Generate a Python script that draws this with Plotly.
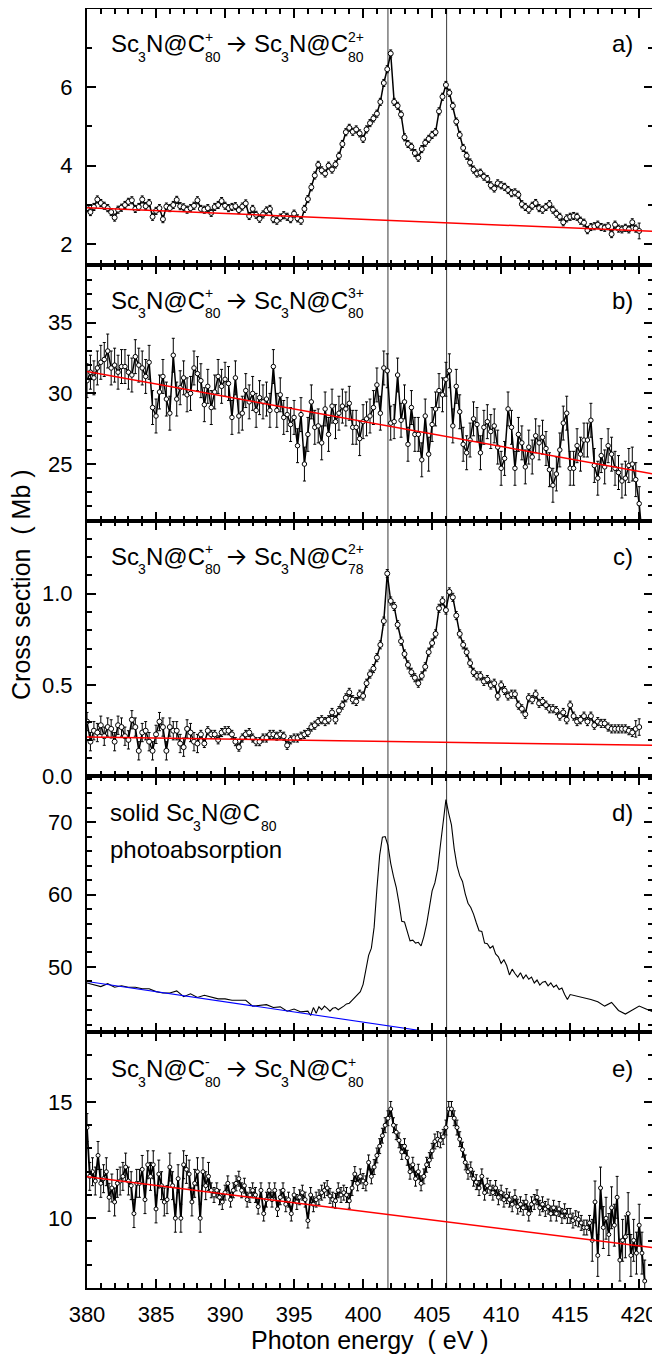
import plotly.graph_objects as go

# ---------------- data ----------------
energy_ion = [
    380.0, 380.25, 380.5, 380.75, 381.0, 381.25, 381.5, 381.75,
    382.0, 382.25, 382.5, 382.75, 383.0, 383.25, 383.5, 383.75,
    384.0, 384.25, 384.5, 384.75, 385.0, 385.25, 385.5, 385.75,
    386.0, 386.25, 386.5, 386.75, 387.0, 387.25, 387.5, 387.75,
    388.0, 388.25, 388.5, 388.75, 389.0, 389.25, 389.5, 389.75,
    390.0, 390.25, 390.5, 390.75, 391.0, 391.25, 391.5, 391.75,
    392.0, 392.25, 392.5, 392.75, 393.0, 393.25, 393.5, 393.75,
    394.0, 394.25, 394.5, 394.75, 395.0, 395.25, 395.5, 395.75,
    396.0, 396.25, 396.5, 396.75, 397.0, 397.25, 397.5, 397.75,
    398.0, 398.25, 398.5, 398.75, 399.0, 399.25, 399.5, 399.75,
    400.0, 400.25, 400.5, 400.75, 401.0, 401.25, 401.5, 401.75,
    402.0, 402.25, 402.5, 402.75, 403.0, 403.25, 403.5, 403.75,
    404.0, 404.25, 404.5, 404.75, 405.0, 405.25, 405.5, 405.75,
    406.0, 406.25, 406.5, 406.75, 407.0, 407.25, 407.5, 407.75,
    408.0, 408.25, 408.5, 408.75, 409.0, 409.25, 409.5, 409.75,
    410.0, 410.25, 410.5, 410.75, 411.0, 411.25, 411.5, 411.75,
    412.0, 412.25, 412.5, 412.75, 413.0, 413.25, 413.5, 413.75,
    414.0, 414.25, 414.5, 414.75, 415.0, 415.25, 415.5, 415.75,
    416.0, 416.25, 416.5, 416.75, 417.0, 417.25, 417.5, 417.75,
    418.0, 418.25, 418.5, 418.75, 419.0, 419.25, 419.5, 419.75,
    420.0,
]

# a) Sc3N@C80+ -> Sc3N@C80 2+
sigma_a = [
    2.92, 2.82, 2.95, 3.14, 3.05, 2.98, 2.92, 2.82,
    2.68, 2.88, 2.93, 3.00, 3.08, 3.12, 2.90, 2.95,
    3.14, 2.97, 3.05, 2.70, 2.85, 2.92, 2.64, 2.96,
    2.92, 3.00, 3.13, 2.97, 2.94, 2.88, 2.92, 2.98,
    3.12, 2.90, 2.88, 2.92, 2.80, 2.95, 3.00, 3.10,
    2.98, 2.92, 2.95, 2.97, 2.87, 2.96, 3.04, 2.72,
    2.90, 2.75, 2.65, 2.76, 2.86, 2.90, 2.64, 2.60,
    2.68, 2.74, 2.70, 2.64, 2.78, 2.66, 2.60, 2.90,
    3.15, 3.45, 3.75, 4.02, 3.88, 3.80, 4.00, 3.90,
    4.03, 4.25, 4.55, 4.85, 4.96, 4.86, 4.92, 4.82,
    4.68, 4.92, 5.08, 5.20, 5.32, 5.62, 6.10, 6.45,
    6.85, 5.62, 5.52, 5.30, 4.72, 4.55, 4.48, 4.32,
    4.20, 4.42, 4.58, 4.68, 4.78, 4.85, 5.38, 5.75,
    6.05, 5.85, 5.52, 5.12, 4.78, 4.45, 4.25, 4.08,
    3.90, 3.80, 3.82, 3.72, 3.66, 3.50, 3.42, 3.55,
    3.50, 3.46, 3.38, 3.30, 3.32, 3.26, 3.02, 2.95,
    2.88, 2.98, 3.05, 2.92, 2.88, 2.95, 3.02, 2.88,
    2.78, 2.70, 2.56, 2.66, 2.70, 2.72, 2.70, 2.60,
    2.55, 2.36, 2.44, 2.46, 2.50, 2.44, 2.42, 2.46,
    2.26, 2.50, 2.40, 2.38, 2.42, 2.38, 2.56, 2.40,
    2.34,
]
err_a_levels = [(380.0, 419.75, 0.09), (420.0, 420.0, 0.2)]

# b) Sc3N@C80+ -> Sc3N@C80 3+
energy_b = energy_ion + [420.25]
sigma_b = [
    30.9, 31.5, 31.1, 31.8, 32.2, 32.4, 33.0, 31.8,
    32.0, 31.5, 31.9, 31.9, 31.5, 31.3, 32.6, 32.0,
    31.8, 31.2, 32.2, 29.0, 28.4, 30.1, 31.2, 29.6,
    28.6, 32.7, 29.6, 30.4, 31.1, 29.9, 30.0, 31.8,
    31.4, 30.9, 29.2, 30.5, 29.0, 30.1, 31.2, 30.5,
    31.0, 30.7, 28.3, 31.1, 28.4, 28.6, 30.2, 29.4,
    30.0, 28.8, 29.7, 29.4, 29.6, 28.8, 31.9, 28.8,
    29.9, 28.3, 28.5, 27.8, 28.3, 26.3, 28.5, 25.0,
    27.1, 29.4, 27.6, 27.7, 26.5, 28.9, 27.1, 29.1,
    28.0, 28.6, 29.1, 28.9, 29.3, 27.6, 27.6, 26.8,
    28.0, 28.2, 28.4, 29.0, 30.6, 28.6, 31.8, 31.6,
    27.9, 28.0, 31.3, 28.1, 29.4, 26.4, 29.0, 27.1,
    27.1, 25.3, 28.4, 25.7, 27.8, 28.9, 30.2, 29.9,
    31.0, 31.6, 27.7, 30.5, 28.7, 26.4, 25.8, 26.7,
    28.2, 27.8, 25.8, 27.6, 28.0, 27.3, 27.7, 26.2,
    24.7, 25.4, 28.9, 27.6, 24.7, 27.1, 26.5, 24.8,
    26.2, 25.5, 27.0, 26.5, 26.9, 26.1, 24.6, 23.5,
    24.3, 26.0, 27.9, 28.6, 24.7, 24.7, 26.3, 25.7,
    26.7, 26.7, 28.1, 24.9, 24.0, 25.6, 24.8, 26.3,
    25.7, 24.7, 24.4, 23.8, 24.0, 24.9, 25.0, 23.9,
    22.2, 19.5,
]
err_b_levels = [(380.0, 420.25, 1.2)]

# c) Sc3N@C80+ -> Sc3N@C78 2+
sigma_c = [
    0.30, 0.19, 0.25, 0.24, 0.28, 0.22, 0.27, 0.26,
    0.19, 0.28, 0.27, 0.22, 0.20, 0.31, 0.27, 0.14,
    0.24, 0.25, 0.19, 0.14, 0.23, 0.30, 0.27, 0.14,
    0.27, 0.25, 0.25, 0.18, 0.16, 0.26, 0.24, 0.19,
    0.18, 0.23, 0.18, 0.25, 0.23, 0.23, 0.20, 0.24,
    0.25, 0.25, 0.23, 0.19, 0.16, 0.21, 0.23, 0.24,
    0.21, 0.19, 0.19, 0.21, 0.21, 0.23, 0.23, 0.22,
    0.23, 0.22, 0.17, 0.20, 0.21, 0.21, 0.22, 0.23,
    0.24, 0.27, 0.28, 0.30, 0.31, 0.30, 0.31, 0.35,
    0.31, 0.36, 0.39, 0.43, 0.46, 0.42, 0.41, 0.45,
    0.44, 0.51, 0.56, 0.59, 0.65, 0.72, 0.85, 1.11,
    0.96, 0.93, 0.83, 0.74, 0.67, 0.61, 0.57, 0.54,
    0.51, 0.55, 0.60, 0.68, 0.73, 0.78, 0.92, 0.96,
    0.91, 1.01, 0.98, 0.88, 0.78, 0.72, 0.68, 0.62,
    0.57, 0.55, 0.55, 0.52, 0.53, 0.50, 0.51, 0.44,
    0.50, 0.47, 0.44, 0.45, 0.45, 0.39, 0.37, 0.34,
    0.43, 0.42, 0.45, 0.40, 0.41, 0.39, 0.37, 0.37,
    0.36, 0.33, 0.35, 0.31, 0.39, 0.33, 0.30, 0.31,
    0.33, 0.30, 0.33, 0.28, 0.30, 0.29, 0.29, 0.27,
    0.26, 0.26, 0.26, 0.26, 0.26, 0.25, 0.24, 0.26,
    0.27,
]
err_c_levels = [(380.0, 388.0, 0.05), (388.25, 419.5, 0.022), (419.75, 420.0, 0.045)]

# d) solid Sc3N@C80 photoabsorption
energy_d = [
    380.0, 380.5, 381.0, 381.5, 382.0, 382.5, 383.0, 383.5,
    384.0, 384.5, 385.0, 385.5, 386.0, 386.5, 387.0, 387.5,
    388.0, 388.5, 389.0, 389.5, 390.0, 390.5, 391.0, 391.5,
    392.0, 392.5, 393.0, 393.5, 394.0, 394.5, 395.0, 395.5, 396.0,
    396.2, 396.4, 396.6, 396.8, 397.0,
    397.2, 397.4, 397.6, 397.8, 398.0,
    398.2, 398.4, 398.6, 398.8, 399.0,
    399.2, 399.4, 399.6, 399.8, 400.0,
    400.2, 400.4, 400.6, 400.8, 401.0,
    401.2, 401.4, 401.6, 401.8, 402.0,
    402.2, 402.4, 402.6, 402.8, 403.0,
    403.2, 403.4, 403.6, 403.8, 404.0,
    404.2, 404.4, 404.6, 404.8, 405.0,
    405.2, 405.4, 405.6, 405.8, 406.0,
    406.2, 406.4, 406.6, 406.8, 407.0,
    407.2, 407.4, 407.6, 407.8, 408.0,
    408.2, 408.4, 408.6, 408.8, 409.0,
    409.2, 409.4, 409.6, 409.8, 410.0,
    410.2, 410.4, 410.6, 410.8, 411.0,
    411.2, 411.4, 411.6, 411.8, 412.0,
    412.2, 412.4, 412.6, 412.8, 413.0,
    413.2, 413.4, 413.6, 413.8, 414.0,
    414.2, 414.4, 414.6, 414.8, 415.0,
    415.5, 416.0, 416.5, 417.0, 417.5, 418.0,
    418.5, 419.0, 419.5, 420.0, 420.5, 421.0,
]
sigma_d = [
    47.8, 47.5, 47.3, 47.7, 47.2, 47.4, 47.2, 47.2,
    47.0, 47.0, 46.6, 46.4, 46.4, 46.7, 45.9, 46.3,
    45.8, 46.1, 45.8, 45.6, 45.6, 45.4, 45.4, 45.4,
    44.6, 44.7, 44.8, 44.4, 44.5, 43.9, 44.2, 43.8, 43.9,
    43.3, 44.4, 43.6, 44.5, 44.1,
    44.6, 44.3, 43.9, 44.3, 44.4,
    44.1, 44.3, 44.6, 44.9, 45.0,
    45.4, 45.8, 46.1, 46.6, 47.6,
    49.8, 51.6, 52.6, 55.5, 60.8,
    65.4, 67.9, 68.0, 66.8, 64.3,
    62.5, 61.0, 58.8, 56.3, 56.2,
    54.8, 53.6, 53.7, 53.3, 53.4,
    52.9, 54.2, 55.9, 58.2, 60.5,
    61.6, 63.5, 66.8, 70.2, 73.1,
    71.2, 69.6, 66.3, 64.0, 62.6,
    61.8, 60.1, 58.8, 58.2, 57.3,
    56.1, 55.0, 54.9, 53.3, 53.2,
    52.6, 52.9, 51.8, 51.4, 50.5,
    51.0, 50.2, 48.9, 49.7, 49.1,
    48.6, 49.2, 48.4, 48.9, 48.3,
    48.6, 47.8, 48.2, 47.5, 47.9,
    48.0, 47.4, 47.8, 47.2, 47.5,
    46.9, 47.1, 46.2, 45.5, 46.2,
    46.0, 45.8, 45.5, 45.2, 44.6, 45.1,
    44.0, 43.5, 44.0, 44.6, 44.2, 43.8,
]

# e) Sc3N@C80- -> Sc3N@C80+
energy_e = [
    380.0, 380.2, 380.4, 380.6, 380.8, 381.0, 381.2, 381.4, 381.6, 381.8,
    382.0, 382.2, 382.4, 382.6, 382.8, 383.0, 383.2, 383.4, 383.6, 383.8,
    384.0, 384.2, 384.4, 384.6, 384.8, 385.0, 385.2, 385.4, 385.6, 385.8,
    386.0, 386.2, 386.4, 386.6, 386.8, 387.0, 387.2, 387.4, 387.6, 387.8,
    388.0, 388.2, 388.4, 388.6, 388.8, 389.0, 389.2, 389.4, 389.6, 389.8,
    390.0, 390.2, 390.4, 390.6, 390.8, 391.0, 391.2, 391.4, 391.6, 391.8,
    392.0, 392.2, 392.4, 392.6, 392.8, 393.0, 393.2, 393.4, 393.6, 393.8,
    394.0, 394.2, 394.4, 394.6, 394.8, 395.0, 395.2, 395.4, 395.6, 395.8,
    396.0, 396.2, 396.4, 396.6, 396.8, 397.0, 397.2, 397.4, 397.6, 397.8,
    398.0, 398.2, 398.4, 398.6, 398.8, 399.0, 399.2, 399.4, 399.6, 399.8,
    400.0, 400.2, 400.4, 400.6, 400.8, 401.0, 401.2, 401.4, 401.6, 401.8,
    402.0, 402.2, 402.4, 402.6, 402.8, 403.0, 403.2, 403.4, 403.6, 403.8,
    404.0, 404.2, 404.4, 404.6, 404.8, 405.0, 405.2, 405.4, 405.6, 405.8,
    406.0, 406.2, 406.4, 406.6, 406.8, 407.0, 407.2, 407.4, 407.6, 407.8,
    408.0, 408.2, 408.4, 408.6, 408.8, 409.0, 409.2, 409.4, 409.6, 409.8,
    410.0, 410.2, 410.4, 410.6, 410.8, 411.0, 411.2, 411.4, 411.6, 411.8,
    412.0, 412.2, 412.4, 412.6, 412.8, 413.0, 413.2, 413.4, 413.6, 413.8,
    414.0, 414.2, 414.4, 414.6, 414.8, 415.0, 415.2, 415.4, 415.6, 415.8,
    416.0, 416.2, 416.4, 416.6, 416.8, 417.0, 417.2, 417.4, 417.6, 417.8,
    418.0, 418.2, 418.4, 418.6, 418.8, 419.0, 419.2, 419.4, 419.6, 419.8,
    420.0, 420.2, 420.4,
]
sigma_e = [
    13.9, 11.8, 12.0, 11.6, 12.7, 11.5, 11.7, 12.0, 10.9, 11.3,
    10.7, 11.5, 11.6, 11.8, 12.2, 11.6, 11.4, 10.2, 11.5, 11.5,
    12.1, 10.8, 12.3, 11.8, 12.3, 10.4, 11.9, 11.4, 10.7, 10.8,
    12.2, 11.4, 10.0, 11.7, 10.0, 12.3, 12.1, 11.9, 10.7, 11.5,
    12.0, 10.0, 12.0, 11.4, 11.8, 11.2, 11.0, 11.2, 10.9, 10.7,
    11.1, 11.5, 10.8, 11.2, 11.5, 11.7, 11.2, 11.4, 10.8, 11.0,
    11.2, 11.0, 10.5, 11.2, 10.2, 10.8, 11.2, 10.8, 11.2, 10.4,
    10.9, 11.2, 10.6, 10.8, 10.2, 11.0, 10.7, 10.9, 11.1, 10.8,
    9.9, 11.0, 10.6, 10.8, 10.9, 11.1, 11.2, 11.3, 10.96, 10.8,
    10.75, 11.2, 11.0, 11.1, 11.0, 10.75, 11.3, 11.9, 11.5, 11.8,
    11.6, 11.5, 12.4, 11.8, 12.2, 12.7, 13.1, 13.55, 14.0, 14.3,
    14.7, 14.0, 13.7, 13.35, 12.85, 13.1, 12.6, 12.0, 12.3, 11.7,
    12.0, 11.5, 11.8, 12.3, 12.5, 12.9, 13.3, 13.4, 13.35, 13.5,
    13.9, 14.7, 14.7, 14.3, 13.9, 13.4, 12.95, 12.4, 12.0, 12.1,
    11.7, 11.55, 11.3, 11.8, 11.1, 11.4, 11.3, 11.1, 11.3, 10.9,
    11.1, 10.8, 10.95, 10.8, 10.6, 10.9, 10.5, 10.6, 10.45, 10.7,
    10.2, 10.6, 10.7, 10.9, 10.45, 10.6, 10.4, 10.5, 10.2, 10.45,
    10.2, 10.4, 10.1, 10.3, 10.1, 10.1, 9.9, 10.0, 9.95, 9.8,
    9.6, 9.6, 9.8, 9.05, 10.7, 8.4, 11.3, 9.6, 10.0, 9.3,
    10.45, 9.7, 10.9, 8.2, 9.05, 9.2, 10.2, 8.4, 9.05, 8.5,
    9.7, 8.5, 7.3,
]
err_e_levels = [(380.0, 388.8, 0.6), (389.0, 416.4, 0.32), (416.6, 420.4, 0.9)]

# straight background lines (end points)
base_E = [380.0, 421.0]
base_a = [2.93, 2.33]
base_b = [31.55, 24.3]
base_c = [0.215, 0.17]
base_d = [48.0, 36.5]
base_e = [11.78, 8.74]

# resonance markers (eV)
resonance_eV = [401.8, 406.05]

assert len(energy_ion) == len(sigma_a) == len(sigma_c)
assert len(energy_b) == len(sigma_b)
assert len(energy_d) == len(sigma_d)
assert len(energy_e) == len(sigma_e)

# ---------------- figure geometry ----------------
FONT = "Liberation Sans, Arial, sans-serif"
PAGE_OFF = 8                      # default body margin of the html page
PL, PR, PT, PB = 87, 653, 9, 1288  # wanted plot-area box in page pixels
W, H = 660 - PAGE_OFF, 1357 - PAGE_OFF
ML = PL - PAGE_OFF
MR = W - (PR - PAGE_OFF)
MT = PT - PAGE_OFF
MB = H - (PB - PAGE_OFF)


def px_x(px):
    return (px - PL) / (PR - PL)


def px_y(py):
    return (PB - py) / (PB - PT)


def errs(energies, levels):
    out = []
    for e in energies:
        val = levels[-1][2]
        for lo, hi, v in levels:
            if lo - 1e-9 <= e <= hi + 1e-9:
                val = v
                break
        out.append(val)
    return out


def axn(i):
    return "" if i == 1 else str(i)


fig = go.Figure()


def add_points(i, x, y, err, msize=5, lw=1.5):
    fig.add_trace(go.Scatter(
        x=x, y=y, mode="lines+markers",
        xaxis="x" + axn(i), yaxis="y" + axn(i),
        line=dict(color="black", width=lw),
        marker=dict(symbol="circle", size=msize, color="white",
                    line=dict(color="black", width=1)),
        error_y=dict(type="data", array=err, color="black", thickness=1, width=1.5),
        showlegend=False, hoverinfo="skip"))


def add_line(i, x, y, color, width):
    fig.add_trace(go.Scatter(
        x=x, y=y, mode="lines", xaxis="x" + axn(i), yaxis="y" + axn(i),
        line=dict(color=color, width=width), showlegend=False, hoverinfo="skip"))


add_points(1, energy_ion, sigma_a, errs(energy_ion, err_a_levels))
add_line(1, base_E, base_a, "#ff0000", 1.5)

add_points(2, energy_b, sigma_b, errs(energy_b, err_b_levels), 4.5)
add_line(2, base_E, base_b, "#ff0000", 1.5)

add_points(3, energy_ion, sigma_c, errs(energy_ion, err_c_levels))
add_line(3, base_E, base_c, "#ff0000", 1.5)

add_line(4, energy_d, sigma_d, "black", 1.1)
add_line(4, base_E, base_d, "#0000ff", 1.1)

add_points(5, energy_e, sigma_e, errs(energy_e, err_e_levels), 4, 1.8)
add_line(5, base_E, base_e, "#ff0000", 1.5)

# axes
yspecs = [
    dict(range=[1.48, 7.98], dtick=2, minor=1, fmt=None),
    dict(range=[21.0, 39.1], dtick=5, minor=1, fmt=None),
    dict(range=[0.0, 1.4], dtick=0.5, minor=0.1, fmt=".1f"),
    dict(range=[41.0, 76.3], dtick=10, minor=2, fmt=None),
    dict(range=[7.0, 18.0], dtick=5, minor=1, fmt=None),
]
common = dict(showline=True, linewidth=2, linecolor="black", mirror="allticks",
              ticks="inside", ticklen=9, tickwidth=2, tickcolor="black",
              showgrid=False, zeroline=False, automargin=False,
              tickfont=dict(family=FONT, size=22, color="black"))
lay = {}
for k in range(5):
    i = k + 1
    s = axn(i)
    top = 1 - k / 5
    bot = 1 - (k + 1) / 5
    xa = dict(common)
    xa.update(domain=[0, 1], anchor="y" + s, range=[380, 421], dtick=5, tick0=380,
              showticklabels=(i == 5), ticklabelstandoff=6,
              minor=dict(ticks="inside", ticklen=5, tickwidth=1.5, dtick=1,
                         tickcolor="black", showgrid=False))
    if i > 1:
        xa["matches"] = "x"
    ysp = yspecs[k]
    ya = dict(common)
    ya.update(domain=[bot, top], anchor="x" + s, range=ysp["range"], dtick=ysp["dtick"],
              tick0=0, ticklabelstandoff=8,
              minor=dict(ticks="inside", ticklen=5, tickwidth=1.5, dtick=ysp["minor"],
                         tickcolor="black", showgrid=False))
    if ysp["fmt"]:
        ya["tickformat"] = ysp["fmt"]
    lay["xaxis" + s] = xa
    lay["yaxis" + s] = ya

fig.update_layout(**lay)

# vertical resonance lines through all panels
shapes = []
for ev in resonance_eV:
    shapes.append(dict(type="line", xref="x5", yref="paper", x0=ev, x1=ev, y0=0, y1=1,
                       line=dict(color="#3a3a3a", width=1), layer="below"))

# annotations
ann = []
MAIN, SMALL = 24, 14
ARROW_FONT = "Inter, Roboto, DejaVu Sans, sans-serif"


def piece(text, xpx, ypx, size, anchor="left", family=FONT):
    ann.append(dict(text=text, x=px_x(xpx), y=px_y(ypx), xref="paper", yref="paper",
                    xanchor=anchor, yanchor="middle", showarrow=False,
                    font=dict(family=family, size=size, color="black")))


def reaction(top, sup1, sub1, sup2, sub2):
    yc, ysub, ysup = top + 37, top + 50, top + 30
    piece("Sc", 109, yc, MAIN)
    piece("3", 136, ysub, SMALL)
    piece("N@C", 144, yc, MAIN)
    piece(sup1, 203, ysup, SMALL)
    piece(sub1, 203, ysub, SMALL)
    piece("\u2192", 223, yc, MAIN, family=ARROW_FONT)
    piece("Sc", 252, yc, MAIN)
    piece("3", 279, ysub, SMALL)
    piece("N@C", 287, yc, MAIN)
    piece(sup2, 346, ysup, SMALL)
    piece(sub2, 346, ysub, SMALL)


tops = [7 + k * (PB - 7) / 5 for k in range(5)]
reaction(tops[0], "+", "80", "2+", "80")
reaction(tops[1], "+", "80", "3+", "80")
reaction(tops[2], "+", "80", "2+", "78")
reaction(tops[4], "-", "80", "+", "80")

# panel d text
td = tops[3]
piece("solid Sc", 108, td + 37, MAIN)
piece("3", 191, td + 50, SMALL)
piece("N@C", 199, td + 37, MAIN)
piece("80", 259, td + 50, SMALL)
piece("photoabsorption", 108, td + 74, MAIN)

for k, lab in enumerate(["a)", "b)", "c)", "d)", "e)"]):
    piece(lab, 635, tops[k] + 37, MAIN, anchor="right")

# axis titles
ann.append(dict(text="Photon energy\u00a0\u00a0( eV )", x=px_x(370), y=px_y(1340),
                xref="paper", yref="paper", xanchor="center", yanchor="middle",
                showarrow=False, font=dict(family=FONT, size=25, color="black")))
ann.append(dict(text="Cross section\u00a0\u00a0( Mb )", x=px_x(21), y=px_y(585),
                xref="paper", yref="paper", xanchor="center", yanchor="middle",
                textangle=-90, showarrow=False,
                font=dict(family=FONT, size=25, color="black")))

fig.update_layout(
    width=W, height=H,
    margin=dict(l=ML, r=MR, t=MT, b=MB, pad=0, autoexpand=False),
    paper_bgcolor="white", plot_bgcolor="white",
    shapes=shapes, annotations=ann, showlegend=False,
    font=dict(family=FONT, color="black"),
)

fig.write_html("out.html")
